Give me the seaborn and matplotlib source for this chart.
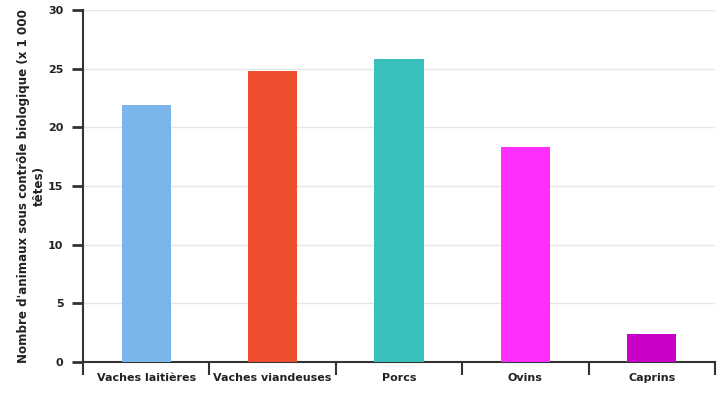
import matplotlib
matplotlib.use("Agg")
import matplotlib.pyplot as plt
import seaborn as sns
import pandas as pd
from matplotlib.ticker import FixedLocator

categories = ["Vaches laitières", "Vaches viandeuses", "Porcs", "Ovins", "Caprins"]
values = [21.9, 24.8, 25.8, 18.3, 2.4]
colors = ["#7cb5ec", "#ef4f2e", "#3ac0bc", "#ff2eff", "#c800c8"]
yticks = [0, 5, 10, 15, 20, 25, 30]
ylabel = "Nombre d'animaux sous contrôle biologique (x 1 000\ntêtes)"

df = pd.DataFrame({"cat": categories, "val": values})

sns.set_theme(style="white")
plt.rcParams["font.family"] = ["DejaVu Sans"]

fig = plt.figure(figsize=(7.25, 4.0), dpi=100)
ax = fig.add_axes([83/725, 1-362/400, (715-83)/725, (362-10)/400])

sns.barplot(data=df, x="cat", y="val", hue="cat", palette=colors, width=0.39,
            legend=False, ax=ax, saturation=1, linewidth=0, edgecolor="none", zorder=3)

ax.set_xlim(-0.5, len(categories) - 0.5)
ax.set_ylim(0, 30)
ax.set_yticks(yticks)
ax.set_yticklabels([str(t) for t in yticks], fontsize=8, fontweight="bold", color="#222222")
ax.yaxis.grid(True, color="#e6e6e6", linewidth=1, zorder=0)
ax.set_axisbelow(True)

ax.set_xticks(range(len(categories)))
ax.set_xticklabels(categories, fontsize=8, fontweight="bold", color="#222222")
ax.tick_params(axis="x", which="major", bottom=True, length=0, pad=8)
ax.xaxis.set_minor_locator(FixedLocator([i - 0.5 for i in range(len(categories) + 1)]))
ax.tick_params(axis="x", which="minor", bottom=True, length=9, width=1.5, color="#333333", direction="out")
ax.tick_params(axis="y", which="major", left=True, length=8, width=2, color="#333333", direction="out", pad=6)

ax.set_xlabel("")
ax.set_ylabel(ylabel, fontsize=8.6, fontweight="bold", color="#222222", labelpad=2)

for s in ["top", "right"]:
    ax.spines[s].set_visible(False)
for s in ["left", "bottom"]:
    ax.spines[s].set_color("#333333")
    ax.spines[s].set_linewidth(1.5)

fig.savefig("out.png", dpi=100)
